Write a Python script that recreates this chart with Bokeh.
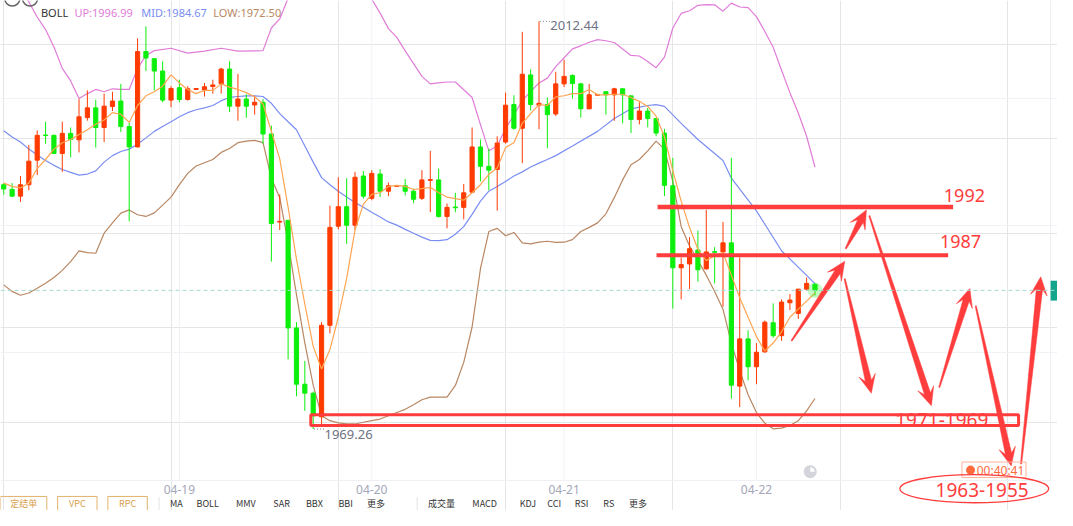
import numpy as np
from bokeh.plotting import figure
from bokeh.models import ColumnDataSource, Range1d, FixedTicker, Span, Grid
from bokeh.core.properties import value
from bokeh.embed import file_html
from bokeh.resources import INLINE

# ---------------- data (hourly XAU candles) ----------------
candle_open = [1995.14, 1994.65, 1993.93, 1995.14, 1997.74, 2000.40, 2000.37, 1998.45, 2000.58, 1999.89,
               2002.25, 2003.28, 2001.20, 2003.42, 2004.00, 2001.30, 1999.14, 2009.24, 2008.49, 2007.18,
               2004.10, 2005.41, 2004.17, 2005.23, 2005.17, 2005.54, 2005.82, 2007.39, 2003.46, 2004.21,
               2003.59, 2003.87, 2000.51, 1991.18, 1991.37, 1979.97, 1974.01, 1973.06, 1970.56, 1980.25,
               1990.75, 1992.81, 1990.85, 1996.06, 1993.70, 1996.27, 1994.45, 1994.96, 1995.03, 1994.45,
               1993.70, 1995.60, 1995.65, 1991.78, 1992.78, 1992.74, 1994.35, 1999.14, 1997.09, 1996.75,
               1999.66, 2003.63, 2001.12, 2006.77, 2003.56, 2003.63, 2002.63, 2005.82, 2006.71, 2005.82,
               2003.18, 2004.62, 2004.99, 2004.66, 2005.30, 2004.55, 2002.05, 2002.94, 2002.15, 2000.61,
               1995.03, 1986.34, 1986.75, 1988.23, 1986.23, 1988.06, 1988.02, 1988.98, 1973.81, 1978.81,
               1975.86, 1977.44, 1980.52, 1979.15, 1982.64, 1981.51, 1984.08, 1984.59]
candle_high = [1995.31, 1995.31, 1996.06, 1999.35, 2000.89, 2001.81, 2000.44, 2001.81, 2001.20, 2004.21,
               2005.13, 2004.14, 2004.79, 2004.99, 2005.82, 2001.71, 2010.64, 2011.91, 2008.49, 2008.21,
               2005.58, 2006.26, 2005.58, 2005.33, 2005.92, 2006.26, 2007.53, 2008.21, 2006.88, 2004.72,
               2004.55, 2004.21, 2001.40, 1994.11, 1991.37, 1980.58, 1976.48, 1973.23, 1980.58, 1992.91,
               1995.93, 1995.83, 1996.50, 1996.60, 1996.68, 1996.78, 1995.37, 1995.06, 1995.75, 1994.72,
               1996.68, 1998.73, 1996.85, 1993.15, 1994.28, 1995.21, 2001.20, 1999.93, 1998.97, 2000.27,
               2004.89, 2004.62, 2011.33, 2007.36, 2012.44, 2004.38, 2007.10, 2008.38, 2006.84, 2005.92,
               2005.82, 2004.70, 2004.99, 2005.41, 2005.30, 2004.55, 2003.87, 2003.28, 2002.15, 2001.06,
               1997.98, 1987.43, 1989.59, 1990.28, 1992.47, 1988.53, 1991.20, 1997.98, 1987.43, 1979.73,
               1978.37, 1980.76, 1982.58, 1982.99, 1983.56, 1984.08, 1985.31, 1984.69]
candle_low = [1994.08, 1993.83, 1993.32, 1994.55, 1996.16, 1999.48, 1998.39, 1996.50, 1998.04, 1998.56,
              2001.92, 1999.07, 1999.66, 2002.94, 2000.71, 1991.26, 1999.10, 2007.18, 2005.13, 2003.87,
              2003.35, 2003.87, 2004.04, 2005.23, 2004.48, 2004.79, 2004.79, 2002.84, 2001.92, 2002.22,
              2002.56, 1999.48, 1986.99, 1990.34, 1976.65, 1972.72, 1971.18, 1969.26, 1969.80, 1979.39,
              1990.41, 1988.87, 1990.34, 1993.67, 1993.49, 1993.83, 1993.93, 1994.96, 1994.01, 1993.18,
              1993.52, 1992.23, 1991.65, 1990.52, 1992.23, 1991.47, 1994.30, 1995.48, 1994.55, 1992.40,
              1999.48, 2000.96, 1997.43, 2003.01, 2001.02, 1998.99, 2002.43, 2005.48, 2004.28, 2002.25,
              2003.12, 2004.62, 2002.56, 2001.92, 2001.64, 2000.61, 2001.53, 2001.23, 2000.27, 1993.93,
              1982.02, 1982.99, 1984.08, 1984.87, 1986.13, 1984.69, 1982.23, 1972.47, 1971.59, 1974.42,
              1974.01, 1977.34, 1978.94, 1978.60, 1981.86, 1980.93, 1983.91, 1983.40]
candle_close = [1994.69, 1993.93, 1995.14, 1997.63, 2000.37, 2000.35, 1998.45, 2000.58, 1999.93, 2002.33,
                2003.28, 2001.20, 2003.46, 2004.00, 2001.30, 1999.14, 2009.24, 2008.56, 2007.18, 2004.10,
                2005.33, 2004.17, 2005.30, 2005.33, 2005.51, 2005.71, 2007.39, 2003.46, 2004.21, 2003.46,
                2003.87, 2000.51, 1991.03, 1991.26, 1979.97, 1974.01, 1973.06, 1970.66, 1980.25, 1990.62,
                1992.81, 1990.85, 1995.93, 1993.93, 1996.34, 1994.45, 1995.03, 1995.06, 1994.45, 1993.60,
                1995.65, 1995.68, 1991.78, 1992.74, 1992.70, 1994.28, 1999.14, 1997.09, 1996.68, 1999.55,
                2003.56, 2001.12, 2006.84, 2003.63, 2003.76, 2002.56, 2005.82, 2006.61, 2005.85, 2003.18,
                2004.66, 2004.70, 2004.66, 2005.30, 2004.66, 2002.05, 2002.94, 2002.15, 2000.61, 1995.07,
                1986.34, 1986.68, 1988.36, 1986.13, 1988.02, 1987.98, 1988.98, 1973.91, 1978.81, 1975.86,
                1977.40, 1980.58, 1979.15, 1982.71, 1982.92, 1984.08, 1984.69, 1983.95]

ma5 = [1995.31, 1994.96, 1994.80, 1995.31, 1996.85, 1997.81, 1998.91, 1999.59, 1999.93, 2000.45,
       2000.96, 2001.54, 2001.99, 2002.77, 2002.60, 2001.74, 2003.53, 2004.56, 2004.99, 2005.58,
       2006.77, 2005.92, 2005.23, 2004.79, 2005.13, 2005.13, 2005.82, 2005.48, 2005.23, 2004.89,
       2004.45, 2003.69, 2000.79, 1997.88, 1992.75, 1987.26, 1982.48, 1978.02, 1975.63, 1977.68,
       1981.10, 1985.21, 1990.34, 1993.08, 1994.11, 1994.29, 1994.96, 1995.07, 1994.96, 1994.63,
       1994.73, 1994.86, 1994.29, 1993.83, 1993.67, 1993.50, 1994.29, 1995.14, 1996.24, 1996.92,
       1999.07, 1999.59, 2001.64, 2002.67, 2003.63, 2003.53, 2004.45, 2004.56, 2004.79, 2004.79,
       2005.23, 2004.66, 2004.66, 2004.72, 2004.72, 2004.38, 2003.97, 2003.43, 2002.40, 2000.20,
       1996.60, 1993.40, 1990.60, 1988.30, 1987.10, 1987.61, 1987.95, 1985.56, 1983.16, 1981.10,
       1979.05, 1977.51, 1978.37, 1979.56, 1981.10, 1981.96, 1982.81, 1983.67]

boll_mid_idx = list(range(0, 67)) + [68, 71, 73, 75, 77, 78, 79, 81, 83, 86, 87, 90, 93, 97]
boll_mid = [2000.86, 2000.20, 1999.66, 1998.91, 1998.29, 1997.71, 1997.19, 1996.75, 1996.44, 1996.16,
            1996.27, 1996.61, 1997.53, 1998.22, 1998.66, 1998.91, 1999.42, 2000.10, 2000.79, 2001.30,
            2001.81, 2002.33, 2002.77, 2003.08, 2003.28, 2003.53, 2004.04, 2004.38, 2004.48, 2004.55,
            2004.55, 2004.48, 2003.76, 2002.67, 2001.81, 2000.96, 1999.24, 1997.53, 1995.89, 1995.14,
            1994.45, 1993.83, 1993.26, 1992.75, 1992.23, 1991.72, 1991.20, 1990.86, 1990.41, 1990.00,
            1989.59, 1989.25, 1989.21, 1989.32, 1989.90, 1990.70, 1992.00, 1993.40, 1994.45, 1994.96,
            1995.48, 1996.06, 1996.50, 1997.02, 1997.43, 1997.81, 1998.22,
            1999.24, 2000.79, 2002.15, 2003.18, 2003.53, 2003.63, 2003.43, 2001.64, 1999.93, 1997.71,
            1995.83, 1992.37, 1988.15, 1984.67]

boll_up_idx = [0, 1, 2, 3, 4, 5, 6, 7, 8, 9, 10, 11, 12, 13, 14, 15, 16, 17, 18, 20, 22, 24, 26, 28, 31,
               32, 33, 34, 36, 38, 40, 42, 44, 45, 46, 47, 48, 49, 50, 51, 52, 53, 54, 55, 56, 57, 58, 59,
               60, 61, 62, 63, 64, 65, 66, 67, 68, 69, 70, 71, 72, 73, 74, 75, 76, 77, 78, 79, 80, 81, 82,
               83, 84, 85, 86, 87, 88, 89, 90, 91, 92, 93, 94, 95, 96, 97]
boll_up = [2017.20, 2016.60, 2015.90, 2014.50, 2012.90, 2011.57, 2009.72, 2007.46, 2006.13, 2004.28,
           2004.79, 2005.23, 2004.99, 2005.30, 2005.23, 2005.23, 2007.46, 2008.83, 2009.34, 2009.59,
           2009.07, 2009.28, 2009.59, 2009.28, 2009.34, 2011.74, 2012.70, 2014.90, 2020.10, 2020.90,
           2019.00, 2016.70, 2014.80, 2013.31, 2011.67, 2010.75, 2009.31, 2007.97, 2006.61, 2005.82,
           2005.92, 2006.02, 2006.02, 2005.20, 2004.38, 2001.51, 1998.73, 1999.24, 2001.09, 2002.53,
           2004.04, 2004.99, 2005.92, 2006.43, 2007.64, 2008.59, 2009.52, 2009.85, 2010.23, 2010.51,
           2010.39, 2010.20, 2009.52, 2008.83, 2008.77, 2008.18, 2007.53, 2008.66, 2011.74, 2013.28,
           2013.57, 2014.14, 2014.21, 2014.19, 2013.52, 2014.37, 2013.96, 2013.90, 2012.94, 2011.36,
           2009.69, 2007.26, 2004.89, 2002.74, 2000.27, 1996.99]

boll_low = [1984.53, 1983.84, 1983.43, 1983.67, 1984.18, 1984.70, 1985.31, 1986.07, 1987.00, 1988.13,
            1987.95, 1987.88, 1990.00, 1991.10, 1992.13, 1992.47, 1991.96, 1991.78, 1992.16, 1992.98,
            1993.83, 1995.14, 1996.34, 1997.12, 1997.47, 1997.81, 1998.56, 1998.97, 1999.59, 1999.76,
            1999.83, 1999.59, 1995.83, 1993.77, 1988.98, 1983.50, 1978.37, 1973.91, 1970.67, 1970.15,
            1969.91, 1969.80, 1969.80, 1969.98, 1970.15, 1970.32, 1970.67, 1971.01, 1971.35, 1971.83,
            1972.37, 1972.65, 1972.65, 1972.65, 1973.88, 1976.32, 1980.07, 1986.24, 1990.18, 1990.52,
            1989.73, 1990.08, 1988.98, 1988.87, 1989.05, 1989.15, 1989.03, 1989.05, 1989.32, 1990.18,
            1990.62, 1991.10, 1992.06, 1993.77, 1995.65, 1997.26, 1997.81, 1998.73, 1999.76, 1998.91,
            1995.48, 1990.69, 1988.64, 1987.13, 1985.56, 1983.84, 1981.96, 1978.37, 1975.45, 1972.89,
            1971.01, 1969.88, 1969.29, 1969.36, 1969.64, 1970.15, 1971.18, 1972.50]

tick_idx = [21, 44, 67, 90]
tick_labels = ["04-19", "04-20", "04-21", "04-22"]
level_labels = ["1992", "1987"]
zone_label = "1971-1969"
target_label = "1963-1955"
countdown = "00:40:41"
bottom_buttons = ["定结单", "VPC", "RPC"]
bottom_items = ["MA", "BOLL", "MMV", "SAR", "BBX", "BBI", "更多", "成交量", "MACD", "KDJ", "CCI", "RSI", "RS", "更多"]

# ---------------- layout helpers (reference-pixel -> data) ----------------
W, H = 1057, 510
REF_W, REF_H = 1073, 526
X0_REF, DX_REF = 3.3, 8.49          # first candle centre / candle spacing (px)
P0_REF, DP_REF = 2014.65, 0.10269   # price at top edge / price per px


def rx(x):
    return (x - X0_REF) / DX_REF


def ry(y):
    return P0_REF - DP_REF * y


RED = "#FF3B00"
GREEN = "#0CEF0C"
ANN = "#FF3D3D"
AXIS_Y = 495

p = figure(width=W, height=H, x_range=Range1d(rx(0), rx(REF_W)), y_range=Range1d(ry(REF_H), ry(0)),
           output_backend="svg", toolbar_location=None, x_axis_location=None, y_axis_location=None,
           min_border_left=0, min_border_right=0, min_border_top=0, min_border_bottom=0)
p.outline_line_color = None
p.background_fill_color = "white"
p.border_fill_color = "white"

# grid / time axis
p.add_layout(Grid(dimension=1, ticker=FixedTicker(ticks=[ry(101), ry(232), ry(363)]),
                  grid_line_color="#F1F2F6"))
p.segment(x0=tick_idx, y0=[ry(AXIS_Y)] * len(tick_idx), x1=tick_idx, y1=[ry(0)] * len(tick_idx),
          line_color="#F1F2F6", line_width=1)
p.segment(x0=[rx(0)], y0=[ry(AXIS_Y)], x1=[rx(1066)], y1=[ry(AXIS_Y)], line_color="#EEF0F4", line_width=1)
p.segment(x0=[rx(1066)], y0=[ry(AXIS_Y)], x1=[rx(1066)], y1=[ry(0)], line_color="#ECEEF3", line_width=1)
p.text(x=tick_idx, y=[ry(504)] * len(tick_idx), text=tick_labels, text_color="#A3A7B8",
       text_font=value("Noto Sans"), text_font_size=value("12px"), text_align="center",
       text_baseline="middle")

# candles
idx = list(range(len(candle_open)))
colors = [RED if c >= o else GREEN for o, c in zip(candle_open, candle_close)]
src = ColumnDataSource(dict(
    idx=idx, open=candle_open, high=candle_high, low=candle_low, close=candle_close,
    top=[max(o, c) for o, c in zip(candle_open, candle_close)],
    bot=[min(o, c) for o, c in zip(candle_open, candle_close)],
    color=colors))

# indicator lines
p.line(boll_up_idx, boll_up, line_color="#E07CD8", line_width=1.2)
p.line(boll_mid_idx, boll_mid, line_color="#7A8EF2", line_width=1.2)
p.line(idx, boll_low, line_color="#B98763", line_width=1.2)

p.segment(x0="idx", y0="low", x1="idx", y1="high", line_color="color", line_width=1, source=src)
p.vbar(x="idx", width=0.5, top="top", bottom="bot", fill_color="color", line_color="color",
       line_width=1, source=src)
p.line(idx, ma5, line_color="#FFA552", line_width=1.2)

# current price
p.add_layout(Span(location=candle_close[-1], dimension="width", line_color="#A4D9CF",
                  line_dash="4 3", line_width=1))
p.scatter([idx[-1]], [candle_close[-1]], marker="circle", size=15, fill_color=GREEN,
          fill_alpha=0.25, line_color=None)
p.quad(left=[rx(1066)], right=[rx(1074)], top=[ry(289)], bottom=[ry(309.5)],
       fill_color="#14A68C", line_color=None)


def txt(x, y, s, color, size, align="left", baseline="middle", font="Noto Sans", y_off=0):
    p.text(x=[x], y=[y], text=[s], text_color=color, text_font=value(font),
           text_font_size=value(size), text_align=align, text_baseline=baseline, y_offset=y_off)


# high / low markers
hi_i = int(np.argmax(candle_high))
lo_i = int(np.argmin(candle_low))
p.segment(x0=[hi_i + 0.1], y0=[candle_high[hi_i]], x1=[hi_i + 1.3], y1=[candle_high[hi_i]],
          line_color="#7D8193", line_width=1, line_dash="1 2")
txt(hi_i + 1.35, candle_high[hi_i], f"{candle_high[hi_i]:.2f}", "#6E7284", "13px", y_off=4)
p.segment(x0=[lo_i + 0.1], y0=[candle_low[lo_i]], x1=[lo_i + 1.3], y1=[candle_low[lo_i]],
          line_color="#7D8193", line_width=1, line_dash="1 2")
txt(lo_i + 1.35, candle_low[lo_i], f"{candle_low[lo_i]:.2f}", "#6E7284", "13px", y_off=5)

# header
txt(rx(41), ry(12), "BOLL", "#333333", "11px", baseline="alphabetic")
txt(rx(75), ry(12), f"UP:{boll_up[-1]:.2f}", "#E07CD8", "11px", baseline="alphabetic")
txt(rx(143), ry(12), f"MID:{boll_mid[-1]:.2f}", "#7A8EF2", "11px", baseline="alphabetic")
txt(rx(216), ry(12), f"LOW:{boll_low[-1]:.2f}", "#B98763", "11px", baseline="alphabetic")
p.scatter([rx(12), rx(30)], [ry(-2), ry(-2)], marker="circle", size=15, fill_color=None,
          line_color="#666666", line_width=1.5)

# ---------------- hand-drawn annotations ----------------
p.segment(x0=[rx(667)], y0=[ry(213)], x1=[rx(967)], y1=[ry(213)], line_color=ANN, line_width=4.5)
p.segment(x0=[rx(666)], y0=[ry(262.7)], x1=[rx(962)], y1=[ry(262.7)], line_color=ANN, line_width=4)
txt(rx(978.5), ry(201.5), level_labels[0], ANN, "18px", align="center")
txt(rx(974.5), ry(248.5), level_labels[1], ANN, "18px", align="center")
txt(rx(955.5), ry(432.5), zone_label, ANN, "19px", align="center")
p.quad(left=[rx(315)], right=[rx(1033.5)], top=[ry(427.3)], bottom=[ry(438.3)],
       fill_color=None, line_color=ANN, line_width=3)

arrows_ref = [((803, 351), (857, 269)), ((857, 287), (884, 405)), ((858, 256), (879, 216)),
              ((882, 222), (945, 418)), ((953, 399), (984, 297)), ((990, 315), (1026, 480)),
              ((1036, 478), (1056, 285))]
axs, ays = [], []
for (x1, y1), (x2, y2) in arrows_ref:
    a = np.array([x1, y1], float)
    b = np.array([x2, y2], float)
    u = (b - a) / np.hypot(*(b - a))
    n = np.array([-u[1], u[0]])
    neck = b - u * 13
    wing = b - u * 19
    pts = [a + n * 0.6, neck + n * 3.2, wing + n * 8.5, b, wing - n * 8.5, neck - n * 3.2, a - n * 0.6]
    axs.append([rx(q[0]) for q in pts])
    ays.append([ry(q[1]) for q in pts])
p.patches(axs, ays, fill_color=ANN, line_color=ANN, line_width=0.5)

# countdown box
p.quad(left=[rx(976)], right=[rx(1041)], top=[ry(476)], bottom=[ry(492)], fill_color=None,
       line_color="#FFB39A", line_width=1)
p.scatter([rx(984.7)], [ry(484.3)], marker="circle", size=9, fill_color="#FF6A3D", line_color=None)
txt(rx(991), ry(484.5), countdown, "#FF6A3D", "12px")
# small grey clock icon
p.scatter([rx(822)], [ry(486)], marker="circle", size=13, fill_color="#D3D4DC", line_color=None)
p.wedge([rx(822)], [ry(486)], radius=4.5, radius_units="screen", start_angle=0, end_angle=1.57,
        fill_color="white", line_color=None)

# ellipse + target text
p.ellipse(x=[rx(988.5)], y=[ry(503.5)], width=[151 / DX_REF], height=[29 * DP_REF],
          fill_color=None, line_color=ANN, line_width=1.3)
txt(rx(996.5), ry(504.5), target_label, ANN, "19px", align="center")

# bottom tool row
for s, (xl, xr) in zip(bottom_buttons, [(0, 47), (58, 98), (109, 149)]):
    p.quad(left=[rx(xl)], right=[rx(xr)], top=[ry(511.5)], bottom=[ry(540)], fill_color=None,
           line_color="#E2B36B", line_width=1)
    txt(rx((xl + xr) / 2), ry(518.5), s, "#D9A04B", "9px", align="center", font="Noto Sans CJK SC")
for xs in [161, 423]:
    p.segment(x0=[rx(xs)], y0=[ry(512)], x1=[rx(xs)], y1=[ry(530)], line_color="#E3E3E8", line_width=1)
for s, xl in zip(bottom_items, [172, 199, 239, 277, 310, 343, 372, 434, 479, 527, 555, 583, 612, 638]):
    txt(rx(xl), ry(518.5), s, "#333333", "9px", font="Noto Sans CJK SC")

open("out.html", "w").write(file_html(p, INLINE))
